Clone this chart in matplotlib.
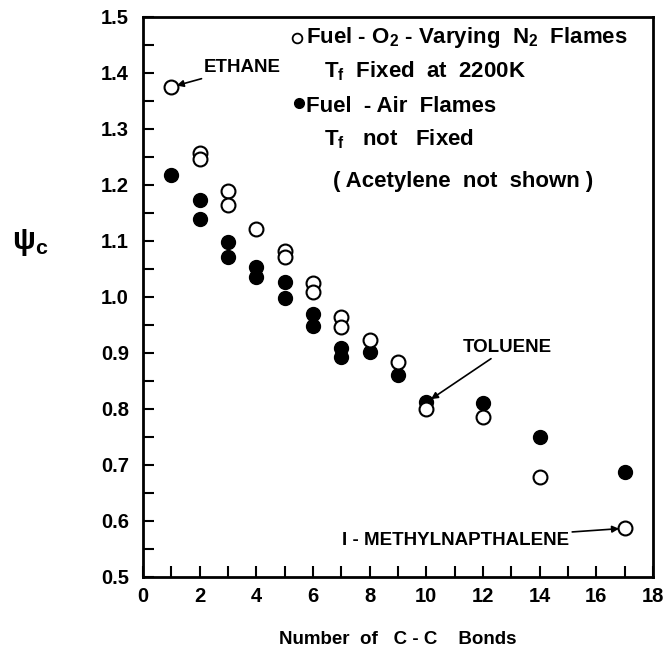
import matplotlib
matplotlib.use("Agg")
import matplotlib.pyplot as plt
from matplotlib.ticker import MultipleLocator, FixedLocator

plt.rcParams['font.family'] = ['Liberation Sans', 'DejaVu Sans']
plt.rcParams['font.weight'] = 'bold'
plt.rcParams['mathtext.fontset'] = 'custom'
plt.rcParams['mathtext.rm'] = 'Liberation Sans:bold'
plt.rcParams['mathtext.it'] = 'Liberation Sans:bold'
plt.rcParams['mathtext.default'] = 'rm'

# Fuel-O2-Varying N2 flames (open circles), Tf fixed at 2200 K
open_x = [1, 2, 2, 3, 3, 4, 5, 5, 6, 6, 7, 7, 8, 9, 10, 12, 14, 17]
open_y = [1.375, 1.257, 1.246, 1.189, 1.164, 1.121, 1.082, 1.071, 1.025, 1.009,
          0.964, 0.946, 0.923, 0.884, 0.800, 0.786, 0.679, 0.587]

# Fuel-Air flames (filled circles), Tf not fixed
fill_x = [1, 2, 2, 3, 3, 4, 4, 5, 5, 6, 6, 7, 7, 8, 9, 10, 12, 14, 17]
fill_y = [1.218, 1.173, 1.139, 1.098, 1.071, 1.054, 1.036, 1.027, 0.998, 0.970,
          0.948, 0.909, 0.893, 0.902, 0.861, 0.812, 0.811, 0.750, 0.687]

x_ticks = [0, 2, 4, 6, 8, 10, 12, 14, 16, 18]
y_ticks = [0.5, 0.6, 0.7, 0.8, 0.9, 1.0, 1.1, 1.2, 1.3, 1.4, 1.5]

fig = plt.figure(figsize=(6.68, 6.55), dpi=100)
ax = fig.add_axes([143/668, 78/655, 510/668, 560/655])

ax.plot(fill_x, fill_y, 'o', ms=10, mfc='black', mec='black', ls='none', zorder=3)
ax.plot(open_x, open_y, 'o', ms=10, mfc='white', mec='black', mew=1.5, ls='none', zorder=4)

ax.set_xlim(0, 18)
ax.set_ylim(0.5, 1.5)
ax.xaxis.set_major_locator(FixedLocator(x_ticks))
ax.xaxis.set_minor_locator(MultipleLocator(1))
ax.yaxis.set_major_locator(FixedLocator(y_ticks))
ax.yaxis.set_minor_locator(MultipleLocator(0.05))
ax.set_xticklabels([str(v) for v in x_ticks])
ax.set_yticklabels([f"{v:.1f}" for v in y_ticks])
ax.tick_params(which='both', direction='in', length=8, width=1.5,
               top=False, right=False, labelsize=14.5)
ax.tick_params(axis='y', pad=10)
ax.tick_params(axis='x', pad=7)
for s in ax.spines.values():
    s.set_linewidth(2)

ax.set_xlabel("Number  of   C - C    Bonds", fontsize=13.5, fontweight='bold', labelpad=18)
fig.text(30/668, 1 - 242/655, r"$\psi_c$", fontsize=22, ha='center', va='center')

# legend-like annotations
tr = ax.transAxes
ax.plot([0.302], [0.963], 'o', ms=7, mfc='white', mec='black', mew=1.3, transform=tr, clip_on=False)
ax.text(0.320, 0.963, r"Fuel - O$_2$ - Varying  N$_2$  Flames", transform=tr,
        fontsize=16, va='center', ha='left')
ax.text(0.355, 0.903, r"T$_f$  Fixed  at  2200K", transform=tr,
        fontsize=16, va='center', ha='left')
ax.plot([0.306], [0.847], 'o', ms=7, mfc='black', mec='black', transform=tr, clip_on=False)
ax.text(0.320, 0.840, "Fuel  - Air  Flames", transform=tr,
        fontsize=16, va='center', ha='left')
ax.text(0.355, 0.781, r"T$_f$   not   Fixed", transform=tr,
        fontsize=16, va='center', ha='left')
ax.text(0.372, 0.706, "( Acetylene  not  shown )", transform=tr,
        fontsize=16, va='center', ha='left')

arrow = dict(arrowstyle='-|>', color='black', lw=1.2, mutation_scale=10, shrinkA=0, shrinkB=4)
ax.annotate("ETHANE", xy=(open_x[0], open_y[0]), xytext=(2.15, 1.41),
            fontsize=13.5, fontweight='bold', va='center', ha='left', arrowprops=arrow)
ax.annotate("TOLUENE", xy=(fill_x[15], fill_y[15]), xytext=(11.3, 0.91),
            fontsize=13.5, fontweight='bold', va='center', ha='left', arrowprops=arrow)
ax.annotate("I - METHYLNAPTHALENE", xy=(open_x[-1], open_y[-1]), xytext=(15.05, 0.566),
            fontsize=13.5, fontweight='bold', va='center', ha='right', arrowprops=arrow)

fig.savefig("out.png", dpi=100)
